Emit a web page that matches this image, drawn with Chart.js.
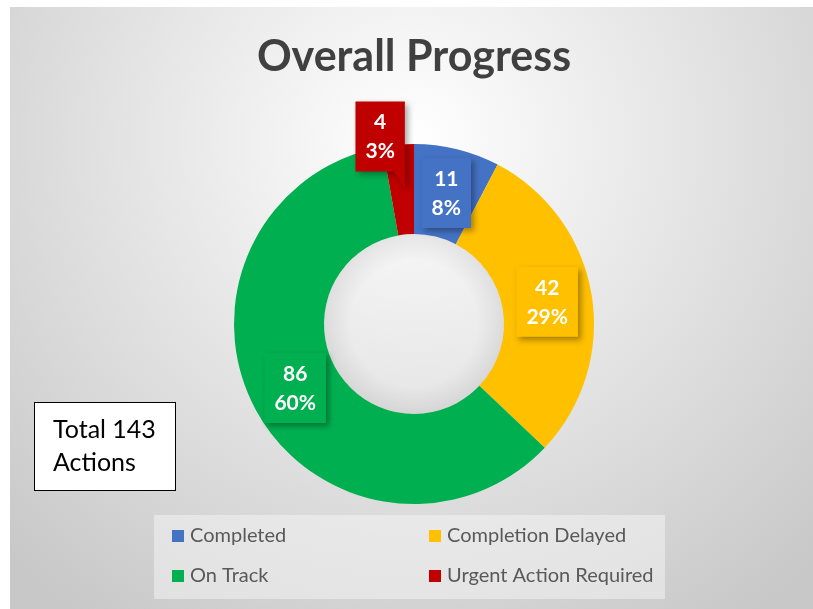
<!DOCTYPE html>
<html>
<head>
<meta charset="utf-8">
<script src="https://cdn.jsdelivr.net/npm/chart.js@4"></script>
<style>
body { margin: 0; background: #fff; }
#wrap { width: 813px; height: 609px; }
</style>
</head>
<body>
<div id="wrap"><canvas id="c1" width="813" height="609"></canvas></div>
<script>
// chart data
var labels = ["Completed", "Completion Delayed", "On Track", "Urgent Action Required"];
var values = [11, 42, 86, 4];
var colors = ["#4472C4", "#FFC000", "#00B050", "#C00000"];
var title = "Overall Progress";

var total = values.reduce(function (a, b) { return a + b; }, 0);

function pct(i) {
  return Math.round(values[i] / total * 100) + "%";
}

var deco = {
  id: "deco",
  beforeDraw: function (chart) {
    var ctx = chart.ctx;
    ctx.save();
    ctx.fillStyle = "#fff";
    ctx.fillRect(0, 0, chart.width, chart.height);
    var g = ctx.createRadialGradient(414, 140, 0, 414, 140, 580);
    g.addColorStop(0, "#ffffff");
    g.addColorStop(1, "#c8c8c8");
    ctx.fillStyle = g;
    ctx.fillRect(10, 7, 803, 602);

    ctx.fillStyle = "#404040";
    ctx.font = "bold 43px Lato";
    ctx.textAlign = "center";
    ctx.textBaseline = "alphabetic";
    ctx.fillText(title, 414, 71);
    ctx.restore();
  },
  afterDatasetsDraw: function (chart) {
    var ctx = chart.ctx;
    var meta = chart.getDatasetMeta(0);
    var a0 = meta.data[0];

    // soft shade inside the hole
    ctx.save();
    var hg = ctx.createRadialGradient(a0.x, a0.y, a0.innerRadius * 0.7, a0.x, a0.y, a0.innerRadius);
    hg.addColorStop(0, "rgba(0,0,0,0)");
    hg.addColorStop(1, "rgba(0,0,0,0.07)");
    ctx.fillStyle = hg;
    ctx.beginPath();
    ctx.arc(a0.x, a0.y, a0.innerRadius, 0, Math.PI * 2);
    ctx.fill();
    ctx.restore();

    meta.data.forEach(function (arc, i) {
      var p = arc.tooltipPosition();
      var x = p.x, y = p.y;
      var small = values[i] / total < 0.05;
      if (small) { x -= 22; y -= 53; }
      var l1 = String(values[i]), l2 = pct(i);
      ctx.save();
      ctx.font = "bold 21px Lato";
      var w = Math.max(ctx.measureText(l1).width, ctx.measureText(l2).width) + 20;
      var h = 70;
      ctx.shadowColor = "rgba(0,0,0,0.35)";
      ctx.shadowBlur = 6;
      ctx.shadowOffsetX = 3;
      ctx.shadowOffsetY = 3;
      ctx.fillStyle = colors[i];
      ctx.beginPath();
      ctx.rect(x - w / 2, y - h / 2, w, h);
      if (small) {
        ctx.moveTo(x + w / 2 - 11, y + h / 2);
        ctx.lineTo(x + w / 2, y + h / 2);
        ctx.lineTo(x + w / 2, y + h / 2 + 17);
        ctx.closePath();
      }
      ctx.fill();
      ctx.restore();

      ctx.save();
      ctx.font = "bold 21px Lato";
      ctx.fillStyle = "#fff";
      ctx.textAlign = "center";
      ctx.textBaseline = "middle";
      ctx.fillText(l1, x, y - 14);
      ctx.fillText(l2, x, y + 15);
      ctx.restore();
    });
  },
  afterDraw: function (chart) {
    var ctx = chart.ctx;
    ctx.save();
    // legend
    ctx.fillStyle = "rgba(245,245,245,0.5)";
    ctx.fillRect(154, 515, 511, 84);
    var cols = [172, 429], rows = [536, 576];
    ctx.font = "20px Lato";
    ctx.textAlign = "left";
    ctx.textBaseline = "middle";
    labels.forEach(function (t, i) {
      var cx = cols[i % 2], cy = rows[Math.floor(i / 2)];
      ctx.fillStyle = colors[i];
      ctx.fillRect(cx, cy - 6, 12, 12);
      ctx.fillStyle = "#595959";
      ctx.fillText(t, cx + 18, cy);
    });

    // total box
    ctx.fillStyle = "#fff";
    ctx.fillRect(34, 402, 142, 89);
    ctx.strokeStyle = "#000";
    ctx.lineWidth = 1;
    ctx.strokeRect(34.5, 402.5, 141, 88);
    ctx.fillStyle = "#000";
    ctx.font = "25px Lato";
    ctx.textBaseline = "alphabetic";
    ctx.fillText("Total " + total, 53, 438);
    ctx.fillText("Actions", 53, 471);
    ctx.restore();
  }
};

var ctx = document.getElementById("c1").getContext("2d");
var chart = new Chart(ctx, {
  type: "doughnut",
  data: {
    labels: labels,
    datasets: [
      {
        data: values,
        backgroundColor: colors,
        borderWidth: 0
      },
    ],
  },
  options: {
    responsive: false,
    animation: false,
    cutout: "50%",
    layout: {
      padding: { left: 234, right: 219, top: 144, bottom: 105 }
    },
    plugins: {
      legend: { display: false },
      title: { display: false },
      tooltip: { enabled: false }
    }
  },
  plugins: [deco]
});
</script>
</body>
</html>
